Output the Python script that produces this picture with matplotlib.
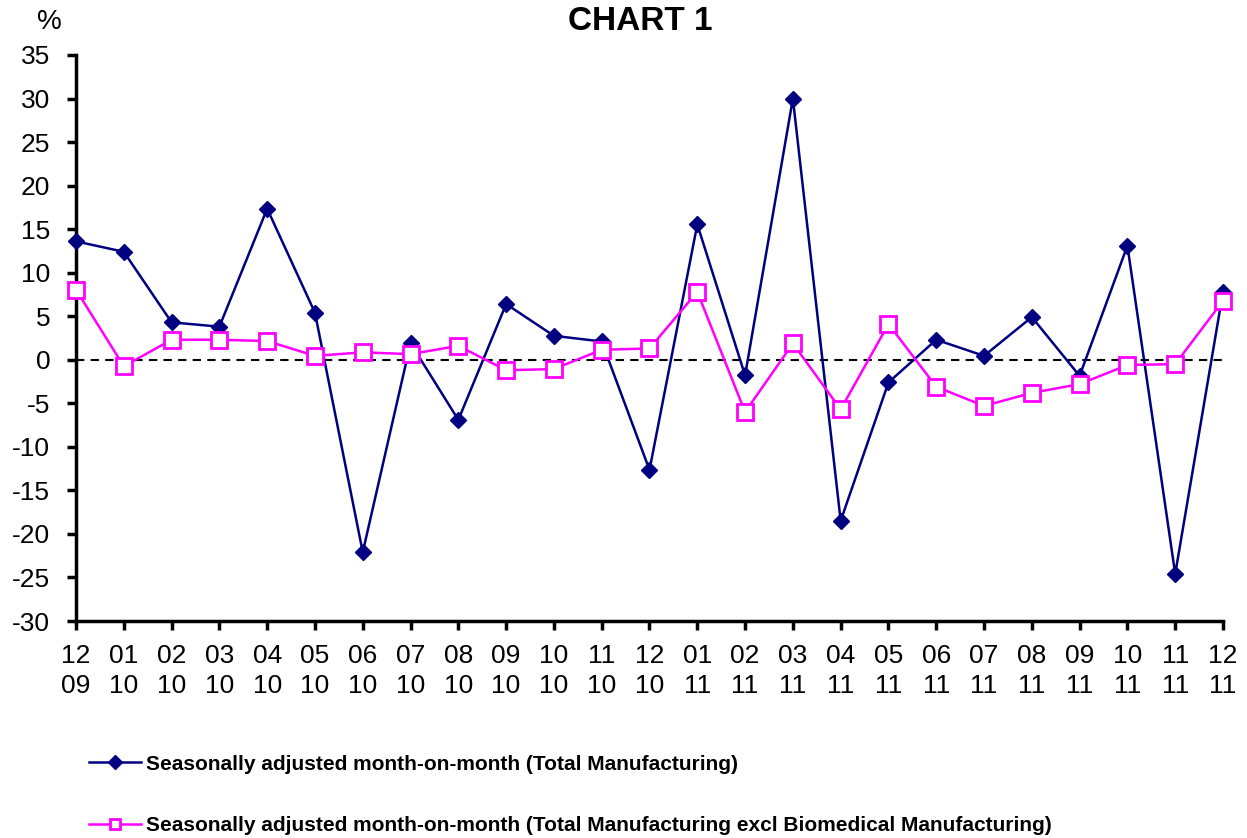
import matplotlib
matplotlib.use("Agg")
import matplotlib.pyplot as plt

months = ["12", "01", "02", "03", "04", "05", "06", "07", "08", "09", "10", "11", "12",
          "01", "02", "03", "04", "05", "06", "07", "08", "09", "10", "11", "12"]
years = ["09", "10", "10", "10", "10", "10", "10", "10", "10", "10", "10", "10", "10",
         "11", "11", "11", "11", "11", "11", "11", "11", "11", "11", "11", "11"]
total_mfg = [13.6, 12.4, 4.3, 3.8, 17.35, 5.4, -22.1, 1.9, -6.9, 6.4, 2.75, 2.1, -12.65,
             15.55, -1.8, 30.0, -18.5, -2.6, 2.3, 0.45, 4.9, -1.85, 13.1, -24.6, 7.8]
excl_bio = [8.05, -0.75, 2.3, 2.3, 2.15, 0.45, 0.85, 0.65, 1.6, -1.2, -1.07, 1.15, 1.3,
            7.8, -6.0, 1.87, -5.7, 4.1, -3.1, -5.3, -3.8, -2.8, -0.6, -0.5, 6.77]
label1 = "Seasonally adjusted month-on-month (Total Manufacturing)"
label2 = "Seasonally adjusted month-on-month (Total Manufacturing excl Biomedical Manufacturing)"
yticks = list(range(-30, 36, 5))

plt.rcParams['font.family'] = ['Liberation Sans', 'DejaVu Sans']

fig = plt.figure(figsize=(12.47, 8.38), dpi=100)
ax = fig.add_axes([76/1247, 1-621/838, (1223-76)/1247, (621-55)/838])

x = list(range(len(months)))
l1, = ax.plot(x, total_mfg, color="#000080", lw=1.8, marker="D", ms=8.5,
              mfc="#000080", mec="#000080", zorder=3, clip_on=False)
l2, = ax.plot(x, excl_bio, color="#FF00FF", lw=1.8, marker="s", ms=11,
              mfc="white", mec="#FF00FF", mew=2, zorder=4, clip_on=False)
ax.axhline(0, color="black", lw=1.5, ls=(0, (4, 3)), zorder=2)

ax.set_xlim(0, 24)
ax.set_ylim(-30, 35)
ax.set_yticks(yticks)
ax.set_yticklabels([str(v) for v in yticks])
ax.set_xticks(x)
ax.set_xticklabels([f"{m}\n{y}" for m, y in zip(months, years)], linespacing=1.3)

for s in ["top", "right"]:
    ax.spines[s].set_visible(False)
for s in ["left", "bottom"]:
    ax.spines[s].set_linewidth(2.5)
    ax.spines[s].set_color("black")

ax.tick_params(axis="both", direction="out", length=6.5, width=2.5, labelsize=19, colors="black")
ax.tick_params(axis="y", pad=12)
ax.tick_params(axis="x", pad=10)

fig.text(640/1247, 1-21/838, "CHART 1", ha="center", va="center", fontsize=24,
         fontweight="bold")
fig.text(49/1247, 1-22/838, "%", ha="center", va="center", fontsize=20)

leg = fig.legend([l1, l2], [label1, label2], loc="upper left",
                 bbox_to_anchor=(70/1247, 1-736/838), frameon=False,
                 handlelength=2.5, handletextpad=0.25, labelspacing=2.05,
                 prop={"weight": "bold", "size": 15})
for h in leg.legend_handles:
    h.set_markersize(7)

fig.savefig("out.png", dpi=100, facecolor="white")
